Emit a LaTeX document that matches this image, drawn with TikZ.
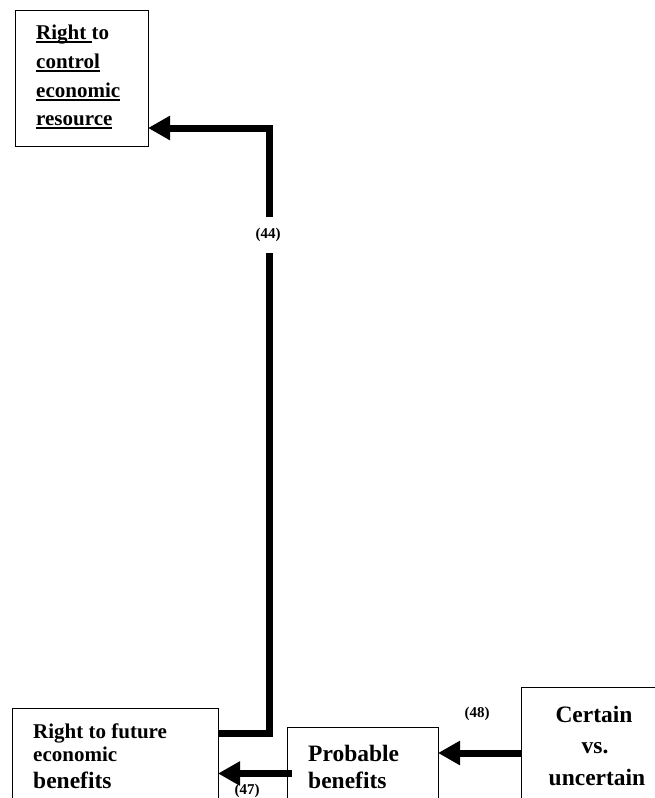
\documentclass[tikz,border=0pt]{standalone}
\usepackage{fontspec}
\setmainfont{Liberation Serif}
\usetikzlibrary{arrows.meta}
% underline with a heavier rule than \underline gives
\newcommand\uln[1]{\leavevmode\setbox0\hbox{#1}\rlap{\rule[-4pt]{\wd0}{1.7pt}}\box0}
\begin{document}
\begin{tikzpicture}[x=1pt,y=-1pt,
  box/.style={draw,line width=1.3pt,inner sep=0pt,anchor=north west},
  txt/.style={inner sep=0pt,anchor=base west,font=\bfseries\fontsize{21}{25}\selectfont},
  big/.style={inner sep=0pt,font=\bfseries\fontsize{23.5}{28}\selectfont},
  lbl/.style={inner sep=0pt,anchor=base,font=\bfseries\fontsize{15}{18}\selectfont},
  flow/.style={line width=7pt,-{Triangle[length=22pt,width=23pt]}}]
\useasboundingbox (0,0) rectangle (655,798);

% boxes
\node[box,minimum width=133pt,minimum height=136pt] (ctrl) at (15,10) {};
\node[box,minimum width=206pt,minimum height=112pt] (future) at (12,708) {};
\node[box,minimum width=151pt,minimum height=93pt] (prob) at (287,727) {};
\node[box,minimum width=150pt,minimum height=133pt] (cert) at (521,687) {};

% box texts
\node[txt] (c1) at (36,39) {\uln{Right\ }to};
\node[txt] (c2) at (36,68) {\uln{control}};
\node[txt] (c3) at (36,97) {\uln{economic}};
\node[txt] (c4) at (36,125) {\uln{resource}};

\node[txt] (f1) at (33,738) {Right to future};
\node[txt] (f2) at (33,761) {economic};
\node[big,anchor=base west] (f3) at (33,788) {benefits};

\node[big,anchor=base west] (p1) at (308,761) {Probable};
\node[big,anchor=base west] (p2) at (308,788) {benefits};

\node[big,anchor=base] (u1) at (594,722) {Certain};
\node[big,anchor=base] (u2) at (595,753) {vs.};
\node[big,anchor=base] (u3) at (597,785) {uncertain};

% connectors
\coordinate (a0) at (218,733.5);
\coordinate (a1) at (269,733.5);
\coordinate (a2) at (269,128);
\coordinate (a3) at (148,128);
\draw[flow] (a0) -- (a1) -- (a2) -- (a3);
\node[lbl,fill=white,minimum height=36pt,anchor=center] (l44) at (268,235) {(44)};

\coordinate (b0) at (521,753);
\coordinate (b1) at (438,753);
\draw[flow] (b0) -- (b1);
\node[lbl] (l48) at (477,717) {(48)};

\coordinate (d0) at (292,773.5);
\coordinate (d1) at (218,773.5);
\draw[flow] (d0) -- (d1);
\node[lbl] (l47) at (247,794.5) {(47)};
\end{tikzpicture}
\end{document}
